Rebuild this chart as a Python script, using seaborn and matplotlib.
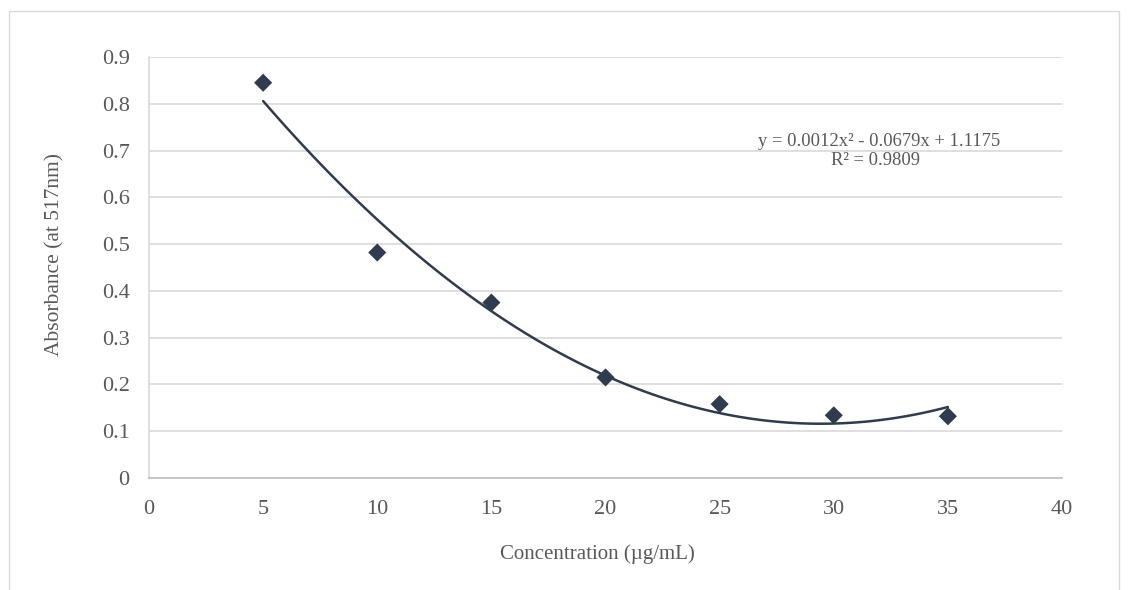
import numpy as np
import pandas as pd
import seaborn as sns
import matplotlib.pyplot as plt
from matplotlib.patches import Rectangle

# readings
concentration = [5, 10, 15, 20, 25, 30, 35]
absorbance = [0.845, 0.482, 0.375, 0.215, 0.158, 0.134, 0.132]
eq_text = "y = 0.0012x² - 0.0679x + 1.1175"
r2_text = "R² = 0.9809"

df = pd.DataFrame({"conc": concentration, "abs": absorbance})

sns.set_theme(style="white")
plt.rcParams['font.family'] = ['Liberation Serif', 'DejaVu Serif']

navy = "#2F3C50"
grey_txt = "#595959"

fig = plt.figure(figsize=(11.28, 5.9), dpi=100)
ax = fig.add_axes([0.1321, 0.1898, 0.9415 - 0.1321, 0.9034 - 0.1898])

# outer chart-area border like Excel
fig.patches.append(Rectangle((9 / 1128, -0.05), (1119 - 9) / 1128, 1.05 - 11 / 590,
                             transform=fig.transFigure, fill=False,
                             edgecolor="#D9D9D9", linewidth=1.0))

# polynomial (order 2) trendline, same as Excel
sns.regplot(data=df, x="conc", y="abs", order=2, ci=None, marker="D", ax=ax,
            scatter_kws={"color": navy, "s": 85, "alpha": 1, "edgecolors": "none", "zorder": 3},
            line_kws={"color": navy, "linewidth": 1.8, "zorder": 2})

ax.set_xlim(0, 40)
ax.set_ylim(0, 0.9)
ax.set_xticks(np.arange(0, 41, 5))
ax.set_yticks(np.round(np.arange(0, 0.91, 0.1), 1))
ax.set_yticklabels(["0"] + [f"{v:.1f}" for v in np.arange(0.1, 0.91, 0.1)])
ax.yaxis.grid(True, color="#D9D9D9", linewidth=1.2)
ax.xaxis.grid(False)
ax.set_axisbelow(True)
for s in ["top", "right"]:
    ax.spines[s].set_visible(False)
ax.spines["left"].set_color("#D9D9D9")
ax.spines["bottom"].set_color("#BFBFBF")
ax.spines["left"].set_linewidth(1.2)
ax.spines["bottom"].set_linewidth(1.2)
ax.tick_params(axis="y", labelsize=16, colors=grey_txt, length=0, pad=14)
ax.tick_params(axis="x", labelsize=16, colors=grey_txt, length=0, pad=16)

ax.set_xlabel("Concentration (µg/mL)", fontsize=15, color=grey_txt)
ax.set_ylabel("Absorbance (at 517nm)", fontsize=15.5, color=grey_txt)
ax.xaxis.set_label_coords(0.4907, -0.157)
ax.yaxis.set_label_coords(-0.093, 0.53)

ax.text(32.0, 0.7204, eq_text, fontsize=13.4, color=grey_txt, ha="center", va="center")
ax.text(31.85, 0.6777, r2_text, fontsize=13.4, color=grey_txt, ha="center", va="center")

fig.savefig("out.png", dpi=100)
